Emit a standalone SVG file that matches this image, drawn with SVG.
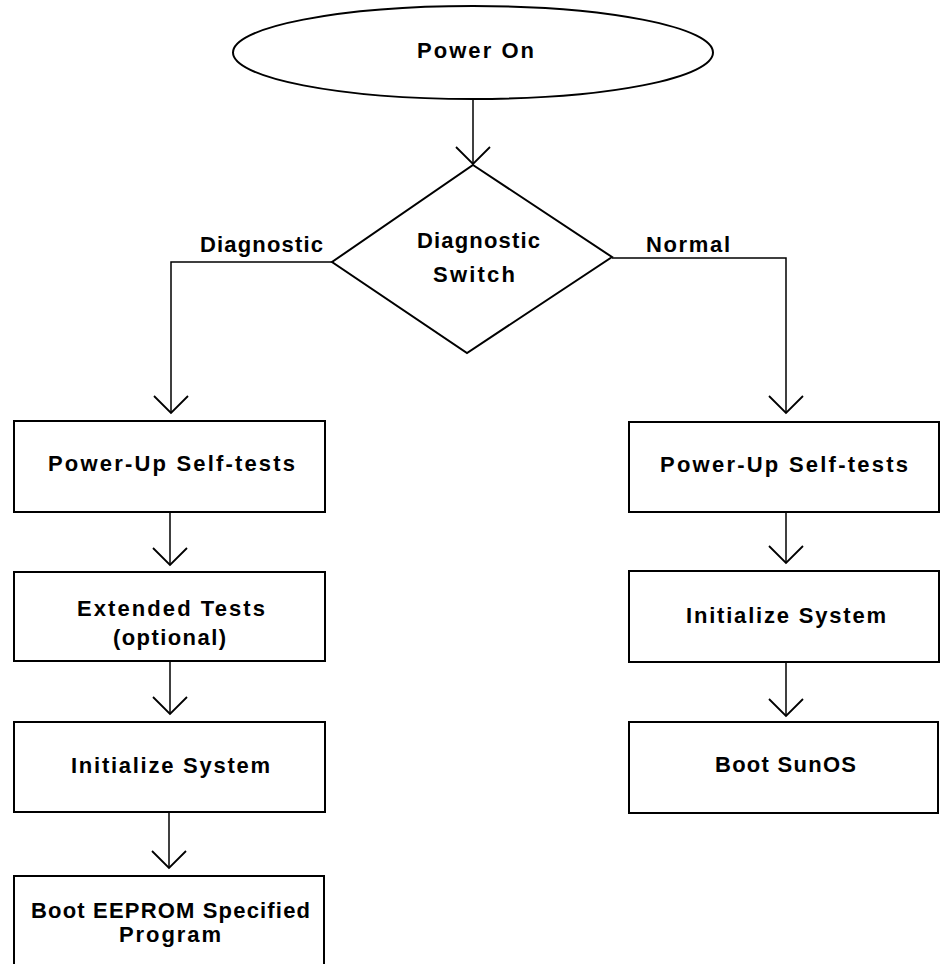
<svg xmlns="http://www.w3.org/2000/svg" width="943" height="964" viewBox="0 0 943 964">
<style>
  .shape { fill: #fff; stroke: #000; stroke-width: 2; }
  .conn { fill: none; stroke: #000; stroke-width: 1.5; }
  text { font-family: "Liberation Sans", Arial, sans-serif; font-weight: bold; font-size: 22px; fill: #000; }
</style>
<defs>
  <marker id="vee" markerUnits="userSpaceOnUse" markerWidth="40" markerHeight="40" viewBox="-20 -20 40 40" refX="0" refY="0" orient="auto">
    <path d="M-17,-17 L0,0 L-17,17" fill="none" stroke="#000" stroke-width="1.8"/>
  </marker>
</defs>
<rect width="943" height="964" fill="#fff"/>
<g id="connectors">
  <path class="conn" d="M473,99 L473,164" marker-end="url(#vee)"/>
  <path class="conn" d="M332,262 L171,262 L171,413" marker-end="url(#vee)"/>
  <path class="conn" d="M612,258 L786,258 L786,413" marker-end="url(#vee)"/>
  <path class="conn" d="M170,512 L170,565" marker-end="url(#vee)"/>
  <path class="conn" d="M170,661 L170,714" marker-end="url(#vee)"/>
  <path class="conn" d="M169,812 L169,868" marker-end="url(#vee)"/>
  <path class="conn" d="M786,512 L786,563" marker-end="url(#vee)"/>
  <path class="conn" d="M786,662 L786,716" marker-end="url(#vee)"/>
  <text x="200" y="252" textLength="123" lengthAdjust="spacing">Diagnostic</text>
  <text x="646" y="252" textLength="84" lengthAdjust="spacing">Normal</text>
</g>
<g id="power-on">
  <ellipse class="shape" cx="473" cy="52.5" rx="240" ry="46.5"/>
  <text x="417" y="58" textLength="117" lengthAdjust="spacing">Power On</text>
</g>
<g id="diagnostic-switch">
  <polygon class="shape" points="473,165 612,257 467,353 332,262"/>
  <text x="417" y="248" textLength="123" lengthAdjust="spacing">Diagnostic</text>
  <text x="433" y="282" textLength="82" lengthAdjust="spacing">Switch</text>
</g>
<g id="left-selftests">
  <rect class="shape" x="14" y="421" width="311" height="91"/>
  <text x="48" y="471" textLength="247" lengthAdjust="spacing">Power-Up Self-tests</text>
</g>
<g id="extended-tests">
  <rect class="shape" x="14" y="572" width="311" height="89"/>
  <text x="77" y="616" textLength="188" lengthAdjust="spacing">Extended Tests</text>
  <text x="113" y="645" textLength="113" lengthAdjust="spacing">(optional)</text>
</g>
<g id="left-initialize">
  <rect class="shape" x="14" y="722" width="311" height="90"/>
  <text x="71" y="773" textLength="199" lengthAdjust="spacing">Initialize System</text>
</g>
<g id="boot-eeprom">
  <rect class="shape" x="14" y="876" width="310" height="100"/>
  <text x="31" y="918" textLength="279" lengthAdjust="spacing">Boot EEPROM Specified</text>
  <text x="119" y="942" textLength="102" lengthAdjust="spacing">Program</text>
</g>
<g id="right-selftests">
  <rect class="shape" x="629" y="422" width="310" height="90"/>
  <text x="660" y="472" textLength="248" lengthAdjust="spacing">Power-Up Self-tests</text>
</g>
<g id="right-initialize">
  <rect class="shape" x="629" y="571" width="310" height="91"/>
  <text x="686" y="623" textLength="200" lengthAdjust="spacing">Initialize System</text>
</g>
<g id="boot-sunos">
  <rect class="shape" x="629" y="722" width="309" height="91"/>
  <text x="715" y="772" textLength="141" lengthAdjust="spacing">Boot SunOS</text>
</g>
</svg>
